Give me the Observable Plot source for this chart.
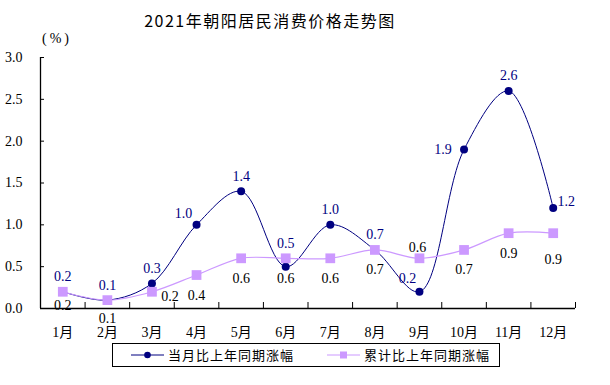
<!DOCTYPE html>
<html><head><meta charset="utf-8">
<script src="https://cdn.jsdelivr.net/npm/d3@7"></script>
<script src="https://cdn.jsdelivr.net/npm/@observablehq/plot@0.6"></script>
<style>
body{margin:0;background:#fff;}
#wrap{position:relative;width:610px;height:385px;overflow:hidden;background:#fff;}
#chart{position:absolute;left:0;top:0;}
#title{position:absolute;left:0;width:540px;top:10px;text-align:center;font-family:"Noto Sans CJK SC";font-size:16px;font-weight:400;letter-spacing:1.5px;color:#000;line-height:20px;}
#unit{position:absolute;left:42px;top:31px;font-family:"Liberation Serif";font-size:14px;letter-spacing:3px;color:#000;}
#legend{position:absolute;left:112px;top:343px;width:388px;height:24px;box-sizing:border-box;border:1px solid #000;background:#fff;}
.lg{position:absolute;top:3px;font-family:"Noto Sans CJK SC";font-size:13px;letter-spacing:1px;line-height:16px;color:#000;}
.sw{position:absolute;top:4px;}
</style></head>
<body>
<div id="wrap">
  <div id="chart"></div>
  <div id="title"></div>
  <div id="unit">(%)</div>
  <div id="legend"></div>
</div>
<script>
const months = ["1月","2月","3月","4月","5月","6月","7月","8月","9月","10月","11月","12月"];
const current = [0.2,0.1,0.3,1.0,1.4,0.5,1.0,0.7,0.2,1.9,2.6,1.2];
const cumulative = [0.2,0.1,0.2,0.4,0.6,0.6,0.6,0.7,0.6,0.7,0.9,0.9];
const yTicks = [0,0.5,1.0,1.5,2.0,2.5,3.0];
const seriesNames = ["当月比上年同期涨幅","累计比上年同期涨幅"];
const titleText = "2021年朝阳居民消费价格走势图";

const navy = "#000080", lilac = "#CC99FF";
const rows = months.map((m,i)=>({i:i+1, m, cur:current[i], cum:cumulative[i]}));
const bounds = months.map((m,i)=>i+1.5);
const fmt = d3.format(".1f");
const serif = '"Liberation Serif","Noto Sans CJK SC"';

const pick = (names) => rows.filter(d=>names.includes(d.m));
const omit = (names) => rows.filter(d=>!names.includes(d.m));

const curSpecial = {"10月":{dx:-21,dy:0},"12月":{dx:13,dy:-7},"4月":{dx:-13,dy:-11},"9月":{dx:-12,dy:-13},"6月":{dx:0,dy:-23}};
const cumSpecial = {"3月":{dx:18,dy:5},"9月":{dx:-2,dy:-11},"1月":{dx:0,dy:14},"2月":{dx:0,dy:18},"12月":{dx:0,dy:26}};

const labelMarks = [];
labelMarks.push(Plot.text(omit(Object.keys(curSpecial)),{x:"i",y:"cur",text:d=>fmt(d.cur),dy:-15,fill:navy,fontSize:14,fontFamily:serif}));
for (const [m,o] of Object.entries(curSpecial)) labelMarks.push(Plot.text(pick([m]),{x:"i",y:"cur",text:d=>fmt(d.cur),dx:o.dx,dy:o.dy,fill:navy,fontSize:14,fontFamily:serif}));
labelMarks.push(Plot.text(omit(Object.keys(cumSpecial)),{x:"i",y:"cum",text:d=>fmt(d.cum),dy:20,fill:"#000",fontSize:14,fontFamily:serif}));
for (const [m,o] of Object.entries(cumSpecial)) labelMarks.push(Plot.text(pick([m]),{x:"i",y:"cum",text:d=>fmt(d.cum),dx:o.dx,dy:o.dy,fill:"#000",fontSize:14,fontFamily:serif}));

const chart = Plot.plot({
  width:610, height:385,
  marginLeft:40, marginRight:35, marginTop:57, marginBottom:77,
  x:{domain:[0.5,12.5]},
  y:{domain:[0,3]},
  style:{fontFamily:serif, fontSize:"13px", color:"#000", background:"#fff", overflow:"visible"},
  marks:[
    Plot.axisY({ticks:yTicks, tickFormat:fmt, tickSize:0, tickPadding:18, fontSize:14, fontFamily:serif, label:null}),
    Plot.axisY({ticks:yTicks, tickFormat:()=>"", tickSize:4, dx:4, label:null, stroke:"#000"}),
    Plot.axisX({ticks:rows.map(d=>d.i), tickFormat:i=>months[i-1], tickSize:0, tickPadding:19, fontSize:14, fontFamily:serif, label:null}),
    Plot.axisX({ticks:bounds, tickFormat:()=>"", tickSize:6, dy:-6, label:null, stroke:"#000"}),
    Plot.ruleY([0],{stroke:"#000",strokeWidth:1.3}),
    Plot.ruleX([0.5],{stroke:"#000",strokeWidth:1.3}),
    Plot.line(rows,{x:"i",y:"cur",stroke:navy,strokeWidth:1,curve:"catmull-rom"}),
    Plot.dot(rows,{x:"i",y:"cur",r:4,fill:navy}),
    Plot.line(rows,{x:"i",y:"cum",stroke:lilac,strokeWidth:1.2,curve:"catmull-rom"}),
    Plot.dot(rows,{x:"i",y:"cum",symbol:"square",r:5.5,fill:lilac}),
    ...labelMarks
  ]
});
document.getElementById("chart").appendChild(chart);
document.getElementById("title").textContent = titleText;

const lg = document.getElementById("legend");
lg.innerHTML =
  `<svg class="sw" style="left:18px" width="34" height="14"><line x1="0" y1="7" x2="33" y2="7" stroke="${navy}" stroke-width="1.2"/><circle cx="16.5" cy="7" r="3.3" fill="${navy}"/></svg>`+
  `<div class="lg" style="left:55px">${seriesNames[0]}</div>`+
  `<svg class="sw" style="left:214px" width="34" height="14"><line x1="0" y1="7" x2="33" y2="7" stroke="${lilac}" stroke-width="1.2"/><rect x="13" y="3.5" width="7" height="7" fill="${lilac}"/></svg>`+
  `<div class="lg" style="left:251px">${seriesNames[1]}</div>`;
</script>
</body></html>
